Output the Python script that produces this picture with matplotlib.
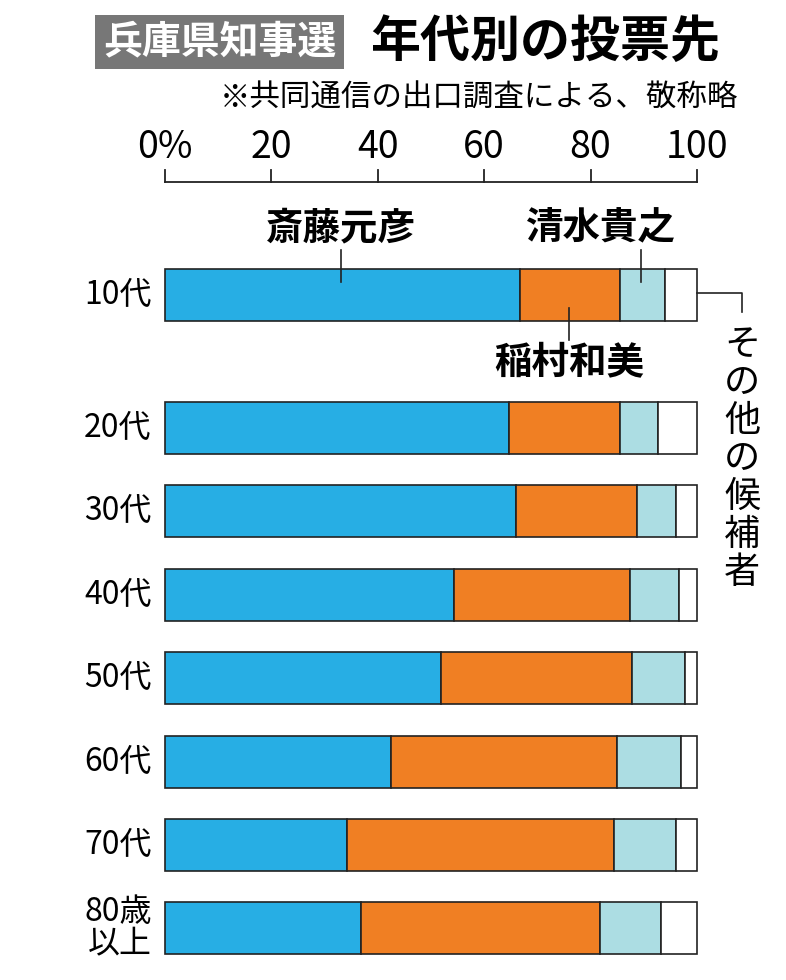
import matplotlib
matplotlib.use("Agg")
import matplotlib.pyplot as plt

plt.rcParams["font.family"] = ["Noto Sans CJK JP", "DejaVu Sans"]

ages = ["10代", "20代", "30代", "40代", "50代", "60代", "70代", "80歳\n以上"]
saito = [66.7, 64.7, 66.0, 54.3, 51.9, 42.5, 34.2, 36.8]
inamura = [18.8, 20.8, 22.7, 33.1, 35.9, 42.5, 50.2, 45.0]
shimizu = [8.5, 7.2, 7.3, 9.2, 9.9, 12.0, 11.6, 11.4]
other = [6.0, 7.3, 4.0, 3.4, 2.3, 3.0, 4.0, 6.8]
ticks = [0, 20, 40, 60, 80, 100]
tick_labels = ["0%", "20", "40", "60", "80", "100"]

BLUE, ORANGE, LIGHT = "#27aee4", "#f07f23", "#acdde3"

# row centres in pixel units (y axis runs 0..980 downward)
row_y = [295, 428, 511, 595, 678, 762, 845, 928]
px = 5.32  # pixels per percent

fig = plt.figure(figsize=(7.86, 9.8), dpi=100)
ax = fig.add_axes([0, 0, 1, 1])
ax.set_xlim(-165 / px, (786 - 165) / px)
ax.set_ylim(980, 0)
ax.axis("off")

left = [0] * len(ages)
for vals, col in [(saito, BLUE), (inamura, ORANGE), (shimizu, LIGHT), (other, "white")]:
    ax.barh(row_y, vals, left=left, height=52, color=col, edgecolor="#222", linewidth=1.2)
    left = [a + b for a, b in zip(left, vals)]

for y, lab in zip(row_y, ages):
    ax.text(-2.5, y, lab, ha="right", va="center", fontsize=23, linespacing=1.0)

# axis
ax.plot([0, 100], [182, 182], color="#222", lw=1.3)
for t, tl in zip(ticks, tick_labels):
    ax.plot([t, t], [182, 170], color="#222", lw=1.3)
    ax.text(t, 148, tl, ha="center", va="center", fontsize=27)

# title
ax.text((103 - 165) / px, 42, "兵庫県知事選", ha="left", va="center", fontsize=28,
        color="white", fontweight="bold",
        bbox=dict(boxstyle="square,pad=0.2", fc="#777", ec="none"))
ax.text((370 - 165) / px, 42, "年代別の投票先", ha="left", va="center", fontsize=36,
        fontweight="bold")
ax.text((738 - 165) / px, 98, "※共同通信の出口調査による、敬称略", ha="right", va="center",
        fontsize=22)

# candidate labels with leader lines
ax.text(33, 228, "斎藤元彦", ha="center", va="center", fontsize=27, fontweight="bold")
ax.plot([33, 33], [250, 282], color="#222", lw=1.2)
ax.text(82, 228, "清水貴之", ha="center", va="center", fontsize=27, fontweight="bold")
ax.plot([89.5, 89.5], [250, 282], color="#222", lw=1.2)
ax.text(76, 362, "稲村和美", ha="center", va="center", fontsize=27, fontweight="bold")
ax.plot([76, 76], [308, 340], color="#222", lw=1.2)
ax.plot([100, 108.5, 108.5], [293, 293, 312], color="#222", lw=1.2)
for i, ch in enumerate("その他の候補者"):
    ax.text(108.5, 345 + i * 38, ch, ha="center", va="center", fontsize=26)

fig.savefig("out.png", dpi=100)
